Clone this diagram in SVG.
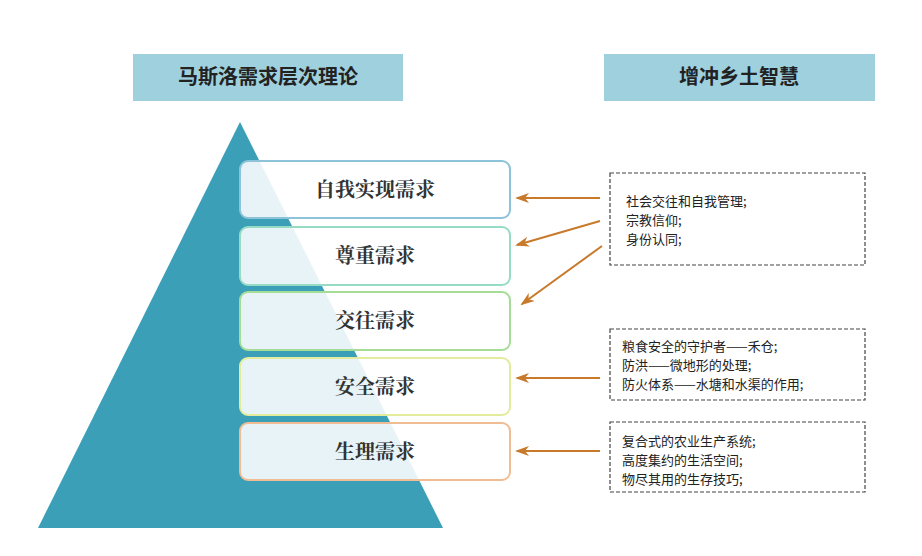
<svg xmlns="http://www.w3.org/2000/svg" width="922" height="556" viewBox="0 0 922 556">
<style>
.hd{fill:#9fd0de}
.ht{font-family:"Noto Sans CJK SC",sans-serif;font-size:20px;font-weight:bold;fill:#222;text-anchor:middle}
.bx{fill:#fff;fill-opacity:0.88;stroke-width:2}
.bt{font-family:"Noto Serif CJK SC","Noto Sans CJK SC",serif;font-size:20px;font-weight:bold;fill:#333;text-anchor:middle}
.db{fill:#fff;stroke:#444;stroke-width:1.2;stroke-dasharray:4 2}
.dt{font-family:"Noto Sans CJK SC",sans-serif;font-size:13px;fill:#222}
.ar{stroke:#c87a2a;stroke-width:2;fill:none;marker-end:url(#ah)}
</style>
<defs>
<marker id="ah" markerWidth="14" markerHeight="10" refX="12" refY="5" orient="auto" markerUnits="userSpaceOnUse">
<path d="M0,0 L14,5 L0,10 L4,5 Z" fill="#c87a2a"/>
</marker>
</defs>
<rect width="922" height="556" fill="#fff"/>
<g id="h1"><rect class="hd" x="133" y="54" width="270" height="47"/><text class="ht" x="268" y="84">马斯洛需求层次理论</text></g>
<g id="h2"><rect class="hd" x="604" y="54" width="271" height="47"/><text class="ht" x="739" y="84">增冲乡土智慧</text></g>
<g id="pyramid"><polygon points="240,122 443,528 38,528" fill="#3a9fb7"/></g>
<g id="n1"><rect class="bx" x="240" y="161" width="270" height="57" rx="8" stroke="#8cc3d8"/><text class="bt" x="375" y="197">自我实现需求</text></g>
<g id="n2"><rect class="bx" x="240" y="227" width="270" height="58" rx="8" stroke="#96dcc4"/><text class="bt" x="375" y="263">尊重需求</text></g>
<g id="n3"><rect class="bx" x="240" y="292" width="270" height="58" rx="8" stroke="#a4dc98"/><text class="bt" x="375" y="328">交往需求</text></g>
<g id="n4"><rect class="bx" x="240" y="358" width="270" height="57" rx="8" stroke="#e2ec9c"/><text class="bt" x="375" y="394">安全需求</text></g>
<g id="n5"><rect class="bx" x="240" y="423" width="270" height="57" rx="8" stroke="#f0bc94"/><text class="bt" x="375" y="459">生理需求</text></g>
<g id="d1"><rect class="db" x="610" y="173" width="255" height="92"/>
<text class="dt" x="626" y="206">社会交往和自我管理;</text><text class="dt" x="626" y="225">宗教信仰;</text><text class="dt" x="626" y="244">身份认同;</text></g>
<g id="d2"><rect class="db" x="610" y="329" width="255" height="71"/>
<text class="dt" x="622" y="351">粮食安全的守护者——禾仓;</text><text class="dt" x="622" y="370">防洪——微地形的处理;</text><text class="dt" x="622" y="389">防火体系——水塘和水渠的作用;</text></g>
<g id="d3"><rect class="db" x="610" y="422" width="255" height="70"/>
<text class="dt" x="622" y="446">复合式的农业生产系统;</text><text class="dt" x="622" y="465">高度集约的生活空间;</text><text class="dt" x="622" y="484">物尽其用的生存技巧;</text></g>
<g id="connectors">
<line class="ar" x1="600" y1="198" x2="517" y2="198"/>
<line class="ar" x1="600" y1="221" x2="517" y2="245"/>
<line class="ar" x1="602" y1="246" x2="522" y2="304"/>
<line class="ar" x1="600" y1="378" x2="517" y2="378"/>
<line class="ar" x1="600" y1="451" x2="517" y2="451"/>
</g>
</svg>
